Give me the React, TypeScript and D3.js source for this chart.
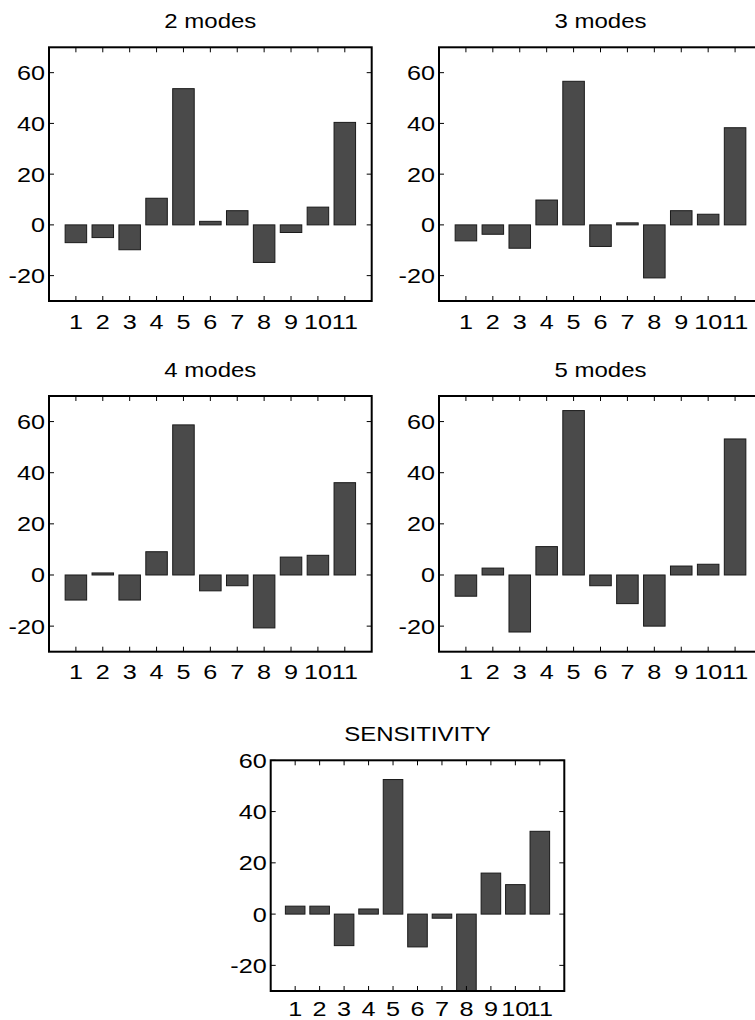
import React from "react";
import * as d3 from "d3";

const categories = [1, 2, 3, 4, 5, 6, 7, 8, 9, 10, 11];
const modes2 = [-7, -5, -9.8, 10.5, 53.7, 1.4, 5.6, -14.8, -3, 7, 40.4];
const modes3 = [-6.3, -3.7, -9.2, 9.8, 56.6, -8.5, 0.8, -20.9, 5.6, 4.2, 38.3];
const modes4 = [-9.8, 0.8, -9.8, 9.1, 58.7, -6.2, -4.2, -20.7, 7, 7.7, 36.1];
const modes5 = [-8.3, 2.7, -22.3, 11.1, 64.3, -4.2, -11.2, -20, 3.5, 4.2, 53.2];
const sensitivity = [3.1, 3.1, -12.3, 2, 52.5, -12.8, -1.6, -34, 16, 11.5, 32.3];
const yTicks = [-20, 0, 20, 40, 60];

const FONT = "Arial, 'Liberation Sans', Helvetica, sans-serif";
const SX = 1.2; // text in the picture is stretched sideways

interface PanelI {
	id: string;
	title: string;
	values: number[];
	left: number;
	top: number;
	width: number;
	height: number;
	yDomain: [number, number];
	labelGap?: number;
}

function Panel({ id, title, values, left, top, width, height, yDomain, labelGap = 27.5 }: PanelI) {
	const x = d3.scaleLinear().domain([0, 12]).range([left, left + width]);
	const y = d3.scaleLinear().domain(yDomain).range([top + height, top]);
	const barW = x(0.8) - x(0);
	const tickLen = 5;
	return (
		<g>
			<clipPath id={`clip-${id}`}>
				<rect x={left} y={top} width={width} height={height} />
			</clipPath>
			<text
				transform={`translate(${left + width / 2},${top - 19}) scale(${SX},1)`}
				textAnchor="middle"
				fontSize={20}
				fontFamily={FONT}
				fill="#000"
			>
				{title}
			</text>
			<g clipPath={`url(#clip-${id})`}>
				{values.map((v, i) => (
					<rect
						key={i}
						x={x(categories[i]) - barW / 2}
						y={y(Math.max(0, v))}
						width={barW}
						height={Math.abs(y(v) - y(0))}
						fill="#4a4a4a"
						stroke="#1a1a1a"
						strokeWidth={1}
					/>
				))}
			</g>
			{/* ticks inside the frame, mirrored on both sides */}
			{yTicks.map((t) => (
				<g key={t}>
					<line x1={left} x2={left + tickLen} y1={y(t)} y2={y(t)} stroke="#000" strokeWidth={1} />
					<line x1={left + width} x2={left + width - tickLen} y1={y(t)} y2={y(t)} stroke="#000" strokeWidth={1} />
					<text
						transform={`translate(${left - 4},${y(t) + 7.5}) scale(${SX},1)`}
						textAnchor="end"
						fontSize={21}
						fontFamily={FONT}
						fill="#000"
					>
						{t}
					</text>
				</g>
			))}
			{categories.map((c) => (
				<g key={c}>
					<line x1={x(c)} x2={x(c)} y1={top} y2={top + tickLen} stroke="#000" strokeWidth={1} />
					<line x1={x(c)} x2={x(c)} y1={top + height} y2={top + height - tickLen} stroke="#000" strokeWidth={1} />
					<text
						transform={`translate(${x(c)},${top + height + labelGap}) scale(${SX},1)`}
						textAnchor="middle"
						fontSize={21}
						fontFamily={FONT}
						fill="#000"
					>
						{c}
					</text>
				</g>
			))}
			<rect x={left} y={top} width={width} height={height} fill="none" stroke="#000" strokeWidth={2} />
		</g>
	);
}

export default function App() {
	return (
		<svg
			width={755}
			height={1020}
			viewBox="0 0 755 1020"
			style={{ position: "absolute", left: 0, top: 0, background: "#fff" }}
		>
			<rect width={755} height={1020} fill="#fff" />
			<Panel id="m2" title="2 modes" values={modes2} left={49} top={47.3} width={322.7} height={253.7} yDomain={[-30, 70]} />
			<Panel id="m3" title="3 modes" values={modes3} left={439} top={47.3} width={323} height={253.7} yDomain={[-30, 70]} />
			<Panel id="m4" title="4 modes" values={modes4} left={49} top={396} width={322.7} height={255.7} yDomain={[-30, 70]} />
			<Panel id="m5" title="5 modes" values={modes5} left={439} top={396} width={323} height={255.7} yDomain={[-30, 70]} />
			<Panel id="sens" title="SENSITIVITY" values={sensitivity} left={270.7} top={760.3} width={293.6} height={230.7} yDomain={[-30, 60]} labelGap={24.5} />
		</svg>
	);
}
